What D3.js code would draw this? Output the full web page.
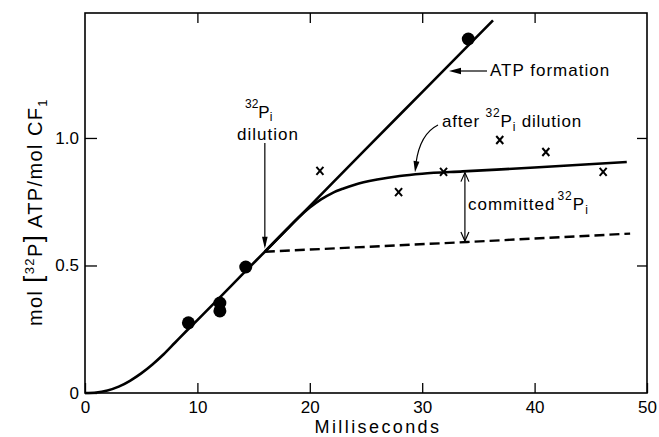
<!DOCTYPE html>
<html>
<head>
<meta charset="utf-8">
<script src="https://cdn.jsdelivr.net/npm/d3@7"></script>
<style>
  body { margin: 0; background: #fff; }
  text { font-family: "Liberation Sans", Arial, sans-serif; fill: #000; }
</style>
</head>
<body>
<svg id="chart" width="659" height="437"></svg>
<script>
// values (time in ms, mol [32P]ATP / mol CF1)
const xTicks = [0, 10, 20, 30, 40, 50];
const yTicks = [0, 0.5, 1.0];
const yTickLabels = ["0", "0.5", "1.0"];

const circleTime = [9.2, 12.0, 12.0, 14.3, 34.1];
const circleATP = [0.275, 0.353, 0.322, 0.494, 1.388];

const crossTime = [20.9, 27.9, 31.9, 36.9, 41.0, 46.1];
const crossATP = [0.871, 0.788, 0.867, 0.992, 0.945, 0.867];

// ATP formation curve (sigmoid start, then straight)
const formationTime = [0, 1, 2, 3, 4, 5, 6, 7, 8, 9, 10, 12, 14, 16, 20, 25, 30, 36.3];
const formationATP = [0, 0.002, 0.01, 0.025, 0.048, 0.077, 0.112, 0.152, 0.197, 0.242, 0.286, 0.375, 0.465, 0.554, 0.733, 0.957, 1.18, 1.461];

// after 32Pi dilution
const dilutionTime = [16, 18, 19, 20, 21, 22, 23, 24, 26, 28, 30, 33.6, 40, 48.2];
const dilutionATP = [0.554, 0.644, 0.688, 0.727, 0.759, 0.784, 0.802, 0.817, 0.837, 0.851, 0.860, 0.869, 0.884, 0.906];

// dashed line (label present at dilution)
const baseTime = [16, 34, 48.5];
const baseATP = [0.554, 0.592, 0.625];

const svg = d3.select("#chart");
const mLeft = 85, mRight = 647, mTop = 13, mBottom = 393;

const x = d3.scaleLinear().domain([0, 50]).range([mLeft, mRight]);
const y = d3.scaleLinear().domain([0, 1.49]).range([mBottom, mTop]);

const zip = (a, b) => a.map((v, i) => [v, b[i]]);

// frame
svg.append("rect")
  .attr("x", mLeft).attr("y", mTop)
  .attr("width", mRight - mLeft).attr("height", mBottom - mTop)
  .style("fill", "none").style("stroke", "#000").style("stroke-width", 1.6);

// axes with inward ticks
const styleAxis = g => {
  g.select(".domain").remove();
  g.selectAll("line").style("stroke", "#000").style("stroke-width", 1.3);
  g.selectAll("text").style("font-family", "'Liberation Sans', Arial, sans-serif")
    .style("font-size", "17px").style("fill", "#000");
};

svg.append("g").attr("transform", `translate(0,${mBottom})`)
  .call(d3.axisBottom(x).tickValues(xTicks).tickSize(-10).tickPadding(8).tickFormat(d3.format("d")))
  .call(styleAxis);

svg.append("g").attr("transform", `translate(0,${mTop})`)
  .call(d3.axisTop(x).tickValues(xTicks.slice(1, -1)).tickSize(-10).tickFormat(""))
  .call(styleAxis);

svg.append("g").attr("transform", `translate(${mLeft},0)`)
  .call(d3.axisLeft(y).tickValues(yTicks).tickSize(-12).tickPadding(6).tickFormat((d, i) => yTickLabels[i]))
  .call(styleAxis);

svg.append("g").attr("transform", `translate(${mRight},0)`)
  .call(d3.axisRight(y).tickValues(yTicks.slice(1)).tickSize(-10).tickFormat(""))
  .call(styleAxis);

// axis titles
svg.append("text")
  .attr("x", 378).attr("y", 433)
  .attr("text-anchor", "middle")
  .style("font-size", "18px").style("letter-spacing", "2.4px")
  .text("Milliseconds");

const yl = svg.append("text")
  .attr("transform", "translate(42,212) rotate(-90)")
  .attr("text-anchor", "middle")
  .style("font-size", "20px").style("letter-spacing", "1.4px");
yl.append("tspan").text("mol ");
yl.append("tspan").text("[").style("font-size", "25px");
yl.append("tspan").text("32").style("font-size", "13px").attr("dy", -8);
yl.append("tspan").text("P").attr("dy", 8);
yl.append("tspan").text("]").style("font-size", "25px");
yl.append("tspan").text(" ATP/mol CF");
yl.append("tspan").text("1").style("font-size", "13px").attr("dy", 5);

// lines
const line = d3.line().x(d => x(d[0])).y(d => y(d[1])).curve(d3.curveMonotoneX);

svg.append("path").datum(zip(formationTime, formationATP))
  .attr("d", line)
  .style("fill", "none").style("stroke", "#000").style("stroke-width", 2.6);

svg.append("path").datum(zip(dilutionTime, dilutionATP))
  .attr("d", line)
  .style("fill", "none").style("stroke", "#000").style("stroke-width", 2.6);

svg.append("path").datum(zip(baseTime, baseATP))
  .attr("d", d3.line().x(d => x(d[0])).y(d => y(d[1])))
  .style("fill", "none").style("stroke", "#000").style("stroke-width", 2.4)
  .style("stroke-dasharray", "10,5");

// points
svg.selectAll(".dot")
  .data(zip(circleTime, circleATP))
  .enter()
  .append("circle")
  .attr("class", "dot")
  .attr("cx", d => x(d[0]))
  .attr("cy", d => y(d[1]))
  .attr("r", 6.5)
  .style("fill", "#000");

svg.selectAll(".cross")
  .data(zip(crossTime, crossATP))
  .enter()
  .append("path")
  .attr("class", "cross")
  .attr("transform", d => `translate(${x(d[0])},${y(d[1])})`)
  .attr("d", "M-3.5,-4L3.5,4M3.5,-4L-3.5,4")
  .style("stroke", "#000").style("stroke-width", 2);

// arrow helpers
const filledHead = (tx, ty, angle, len = 11, half = 3) => {
  const c = Math.cos(angle), s = Math.sin(angle);
  const bx = tx - c * len, by = ty - s * len;
  svg.append("path")
    .attr("d", `M${tx},${ty}L${bx - s * half},${by + c * half}L${bx + s * half},${by - c * half}Z`)
    .style("fill", "#000");
};
const openHead = (tx, ty, angle, len = 9, half = 4) => {
  const c = Math.cos(angle), s = Math.sin(angle);
  const bx = tx - c * len, by = ty - s * len;
  svg.append("path")
    .attr("d", `M${bx - s * half},${by + c * half}L${tx},${ty}L${bx + s * half},${by - c * half}`)
    .style("fill", "none").style("stroke", "#000").style("stroke-width", 1.2);
};
const thin = (x1, y1, x2, y2) => svg.append("line")
  .attr("x1", x1).attr("y1", y1).attr("x2", x2).attr("y2", y2)
  .style("stroke", "#000").style("stroke-width", 1.2);

// 32Pi dilution label + arrow
const dx0 = x(16), dy0 = y(0.554);
const t1 = svg.append("text").attr("x", 245).attr("y", 108).style("font-size", "17px");
t1.append("tspan").text("32").style("font-size", "12px");
t1.append("tspan").text("P").attr("dy", 10);
t1.append("tspan").text("i").style("font-size", "12px").attr("dy", 3);
svg.append("text").attr("x", 268).attr("y", 140).attr("text-anchor", "middle")
  .style("font-size", "17px").style("letter-spacing", "1px").text("dilution");
thin(dx0, 143, dx0, dy0 - 6);
filledHead(dx0, dy0 - 3, Math.PI / 2, 12, 2.8);

// ATP formation label + arrow
svg.append("text").attr("x", 490).attr("y", 76)
  .style("font-size", "17px").style("letter-spacing", "1px").text("ATP formation");
thin(487, 71, 458, 71);
filledHead(449, 71, Math.PI, 12, 3.2);

// after 32Pi dilution label + curved arrow
const t2 = svg.append("text").attr("x", 442).attr("y", 127)
  .style("font-size", "17px").style("letter-spacing", "0.8px");
t2.append("tspan").text("after ");
t2.append("tspan").text("32").style("font-size", "12px").attr("dy", -10);
t2.append("tspan").text("P").attr("dy", 10);
t2.append("tspan").text("i").style("font-size", "12px").attr("dy", 4);
t2.append("tspan").text(" dilution").attr("dy", -4);
svg.append("path").attr("d", "M438,125Q420,134 416,163")
  .style("fill", "none").style("stroke", "#000").style("stroke-width", 1.2);
filledHead(415, y(0.862) - 1, Math.atan2(172 - 135, 415 - 420), 11, 3);

// committed 32Pi double arrow
const cx = x(33.8);
thin(cx, y(0.868) + 1, cx, y(0.592) - 1);
openHead(cx, y(0.868) + 1, -Math.PI / 2);
openHead(cx, y(0.592) - 1, Math.PI / 2);
const t3 = svg.append("text").attr("x", 468).attr("y", 210)
  .style("font-size", "17px").style("letter-spacing", "1px");
t3.append("tspan").text("committed");
t3.append("tspan").text("32").style("font-size", "12px").attr("dy", -10).attr("dx", 2);
t3.append("tspan").text("P").attr("dy", 10);
t3.append("tspan").text("i").style("font-size", "12px").attr("dy", 4);
</script>
</body>
</html>
